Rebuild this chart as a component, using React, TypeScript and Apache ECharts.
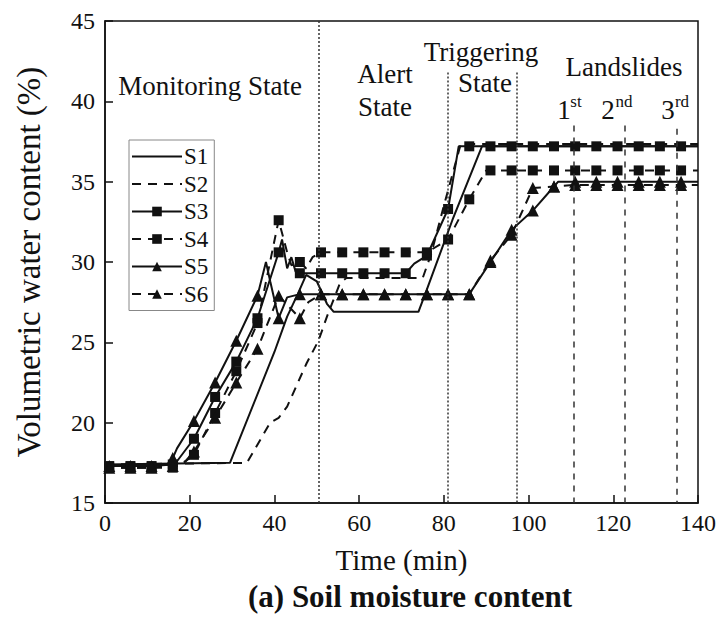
import React, { useEffect, useRef } from "react";
import * as echarts from "echarts";

// ---------- data ----------
const seriesNames = ["S1", "S2", "S3", "S4", "S5", "S6"];

const s1: number[][] = [
  [0, 17.4], [29.5, 17.5], [40, 24.4], [43, 26.6], [45.5, 28.0], [47.5, 29.2],
  [50, 28.8], [52.4, 27.4], [54, 26.9], [74, 26.9], [76, 28.3], [82, 32.6],
  [89, 37.2], [140, 37.2],
];
const s2: number[][] = [
  [0, 17.4], [33.5, 17.5], [39, 20.0], [41, 20.3], [43, 21.0], [47.6, 23.7],
  [50.4, 25.1], [52.4, 26.6], [55.5, 28.7], [57, 29.0], [75, 29.0], [77, 30.5],
  [80, 33.5], [84, 37.35], [140, 37.35],
];
const s3: number[][] = [
  [0, 17.3], [1, 17.3], [6, 17.3], [11, 17.3], [16, 17.4], [17, 17.6], [21, 19.0],
  [26, 21.6], [31, 23.8], [36, 26.5], [41, 30.6], [41.8, 31.4], [43, 29.6],
  [44, 30.3], [45, 29.4], [46, 29.3], [51, 29.3], [56, 29.3], [61, 29.3], [66, 29.3],
  [71, 29.3], [73, 29.9], [76, 30.4], [81, 33.3], [83.5, 37.2], [86, 37.2],
  [91, 37.2], [96, 37.2], [101, 37.2], [106, 37.2], [111, 37.2], [116, 37.2],
  [121, 37.2], [126, 37.2], [131, 37.2], [136, 37.2], [140, 37.2],
];
const s4: number[][] = [
  [0, 17.2], [1, 17.2], [6, 17.2], [11, 17.2], [16, 17.2], [18, 17.4], [21, 18.0],
  [26, 20.6], [31, 23.2], [36, 26.2], [41, 32.6], [43, 30.6], [44, 29.8], [46, 30.0],
  [47.5, 29.6], [49, 30.3], [51, 30.6], [56, 30.6], [61, 30.6], [66, 30.6], [71, 30.6],
  [76, 30.6], [81, 31.4], [86, 33.9], [90, 35.7], [91, 35.7], [96, 35.7], [101, 35.7],
  [106, 35.7], [111, 35.7], [116, 35.7], [121, 35.7], [126, 35.7], [131, 35.7],
  [136, 35.7], [140, 35.7],
];
const s5: number[][] = [
  [0, 17.3], [1, 17.3], [6, 17.3], [11, 17.3], [15, 17.4], [16, 17.8], [17, 18.4],
  [21, 20.1], [26, 22.5], [31, 25.1], [36, 27.9], [38, 30.0], [39, 28.8], [41, 26.5],
  [43, 27.8], [46, 28.0], [51, 28.0], [56, 28.0], [61, 28.0], [66, 28.0], [71, 28.0],
  [76, 28.0], [81, 28.0], [86, 28.0], [91, 30.0], [96, 32.0], [101, 33.2], [106, 34.7],
  [107, 35.0], [111, 35.0], [116, 35.0], [121, 35.0], [126, 35.0], [131, 35.0],
  [136, 35.0], [140, 35.0],
];
const s6: number[][] = [
  [0, 17.2], [1, 17.2], [6, 17.2], [11, 17.2], [16, 17.3], [19, 17.6], [21, 18.2],
  [26, 20.3], [31, 22.5], [36, 24.6], [41, 27.9], [46, 26.5], [48, 27.5], [51, 28.0],
  [56, 28.0], [61, 28.0], [66, 28.0], [71, 28.0], [76, 28.0], [81, 28.0], [86, 28.0],
  [91, 30.1], [96, 31.7], [101, 34.6], [106, 34.7], [111, 34.8], [116, 34.8],
  [121, 34.8], [126, 34.8], [131, 34.8], [136, 34.8], [140, 34.8],
];

const phaseLines = [50.4, 81.0, 97.3];
const landslideLines = [110.6, 122.6, 135.0];

const xMin = 0, xMax = 140, xInterval = 20;
const yMin = 15, yMax = 45, yInterval = 5;

// ---------- styling ----------
const FONT = '"Liberation Serif", "Times New Roman", serif';
const INK = "#111";

const isMarker = (t: number) => t >= 1 && Math.abs((t - 1) % 5) < 1e-6;

function makeSeries(name: string, data: number[][], dashed: boolean, symbol: string | null, size: number) {
  return {
    name,
    type: "line",
    data,
    smooth: false,
    symbol: symbol || "none",
    showSymbol: !!symbol,
    showAllSymbol: true,
    symbolSize: (v: number[]) => (symbol && isMarker(v[0]) ? size : 0),
    itemStyle: { color: INK, borderWidth: 0 },
    lineStyle: { color: INK, width: 2, type: dashed ? [9, 7] : "solid" },
    emphasis: { disabled: true },
    z: 3,
  };
}

export default function App() {
  const ref = useRef<HTMLDivElement>(null);
  useEffect(() => {
    if (!ref.current) return;
    const chart = echarts.init(ref.current, undefined, { renderer: "svg" });

    const series: any[] = [
      makeSeries("S1", s1, false, null, 0),
      makeSeries("S2", s2, true, null, 0),
      makeSeries("S3", s3, false, "rect", 10),
      makeSeries("S4", s4, true, "rect", 10),
      makeSeries("S5", s5, false, "triangle", 12),
      makeSeries("S6", s6, true, "triangle", 12),
    ];

    const mlData: any[] = [];
    phaseLines.forEach((x, i) => {
      mlData.push([
        { coord: [x, i === 0 ? yMax : 41.8], lineStyle: { type: [2, 2], width: 1.5, color: "#333" } },
        { coord: [x, yMin] },
      ]);
    });
    landslideLines.forEach((x, i) => {
      mlData.push([
        { coord: [x, i === 2 ? 38.3 : 38.5], lineStyle: { type: [6, 6], width: 1.5, color: "#333" } },
        { coord: [x, yMin] },
      ]);
    });
    series[0].markLine = {
      silent: true,
      symbol: "none",
      label: { show: false },
      animation: false,
      data: mlData,
    };

    const txt = (text: string, x: number, y: number, size = 27) => ({
      type: "text",
      x,
      y,
      silent: true,
      style: {
        text,
        fontFamily: FONT,
        fontSize: size,
        fill: INK,
        align: "center",
        verticalAlign: "middle",
      },
    });

    chart.setOption({
      animation: false,
      backgroundColor: "#fff",
      title: {
        text: "(a) Soil moisture content",
        left: 410,
        textAlign: "center",
        top: 581,
        padding: 0,
        textStyle: { fontFamily: FONT, fontSize: 31, fontWeight: "bold", color: INK },
      },
      grid: {
        left: 105,
        right: 21,
        top: 21,
        bottom: 116,
        show: true,
        borderColor: INK,
        borderWidth: 1.5,
      },
      legend: {
        orient: "vertical",
        left: 129,
        top: 140,
        padding: [5, 6, 5, 2],
        itemGap: 4.5,
        itemWidth: 50,
        itemHeight: 12,
        borderColor: "#888",
        borderWidth: 1,
        backgroundColor: "#fff",
        textStyle: { fontFamily: FONT, fontSize: 23, color: INK, padding: [0, 0, 0, -3] },
        data: seriesNames.map((n, i) =>
          i < 2 ? { name: n, itemStyle: { opacity: 0 } } : { name: n }
        ),
      },
      xAxis: {
        type: "value",
        min: xMin,
        max: xMax,
        interval: xInterval,
        name: "Time (min)",
        nameLocation: "middle",
        nameGap: 42,
        nameTextStyle: { fontFamily: FONT, fontSize: 29, color: INK },
        axisLine: { lineStyle: { color: INK, width: 1.5 } },
        axisTick: { inside: true, length: 8, lineStyle: { color: INK, width: 1.5 } },
        axisLabel: { fontFamily: FONT, fontSize: 24, color: INK, margin: 8 },
        splitLine: { show: false },
      },
      yAxis: {
        type: "value",
        min: yMin,
        max: yMax,
        interval: yInterval,
        name: "Volumetric water content (%)",
        nameLocation: "middle",
        nameGap: 60,
        nameTextStyle: { fontFamily: FONT, fontSize: 33, color: INK },
        axisLine: { lineStyle: { color: INK, width: 1.5 } },
        axisTick: { inside: true, length: 8, lineStyle: { color: INK, width: 1.5 } },
        axisLabel: { fontFamily: FONT, fontSize: 24, color: INK, margin: 10 },
        splitLine: { show: false },
      },
      graphic: [
        txt("Monitoring State", 210, 86),
        txt("Alert", 385, 74),
        txt("State", 385, 107),
        txt("Triggering", 481, 52),
        txt("State", 485, 83),
        txt("Landslides", 624, 67),
        txt("1", 564, 110),
        txt("st", 576, 101, 17),
        txt("2", 608, 110),
        txt("nd", 624, 101, 17),
        txt("3", 668, 110),
        txt("rd", 682, 101, 17),
      ],
      series,
    });
    return () => chart.dispose();
  }, []);

  return (
    <div
      ref={ref}
      style={{ position: "absolute", left: 0, top: 0, width: 719, height: 619, background: "#fff" }}
    />
  );
}
